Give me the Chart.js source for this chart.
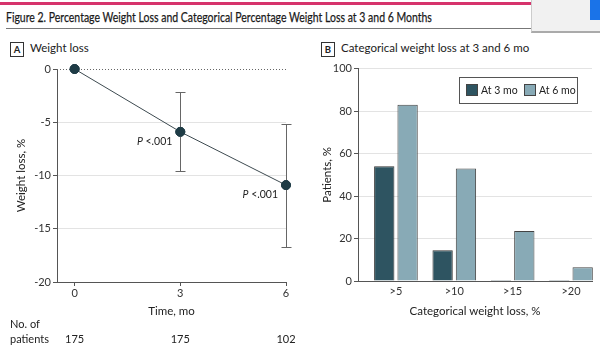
<!DOCTYPE html>
<html>
<head>
<meta charset="utf-8">
<script src="https://cdn.jsdelivr.net/npm/chart.js@4.4.1/dist/chart.umd.min.js"></script>
<style>
  body { margin: 0; background: #fff; }
  #page { position: relative; width: 600px; height: 348px; overflow: hidden; background: #fff;
          font-family: "Lato", "Liberation Sans", sans-serif; color: #222; }
  .abs { position: absolute; }
  #topline { left: 0; top: 2px; width: 531px; height: 3px; background: #d6336c; }
  #title { left: 6px; top: 8px; font-size: 14px; white-space: nowrap; color: #1a1a1a; transform-origin: 0 0;
           -webkit-text-stroke: 0.25px #1a1a1a; }
  #rule { left: 6px; top: 28px; width: 525px; height: 1px; background: #777; }
  #popup { left: 531px; top: 0; width: 69px; height: 33px; background: #f1f1f1;
           border-left: 1px solid #ccc; border-bottom: 2px solid #aaa; box-sizing: border-box; }
  #blue { left: 590px; top: 0; width: 10px; height: 20px; background: #1a73e8; }
  .panel { font-size: 11.5px; color: #222; white-space: nowrap; }
  .tag { display: inline-block; border: 1px solid #333; font-size: 9.5px; font-weight: bold;
         width: 12px; height: 13px; line-height: 13px; text-align: center; margin-right: 6px; vertical-align: middle; }
  canvas { position: absolute; }
</style>
</head>
<body>
<div id="page">
  <div id="topline" class="abs"></div>
  <div id="title" class="abs">Figure 2. Percentage Weight Loss and Categorical Percentage Weight Loss at 3 and 6 Months</div>
  <div id="rule" class="abs"></div>
  <div id="popup" class="abs"></div>
  <div id="blue" class="abs"></div>
  <div class="abs panel" style="left:10px; top:41px;"><span class="tag">A</span>Weight loss</div>
  <div class="abs panel" style="left:321px; top:41px;"><span class="tag">B</span>Categorical weight loss at 3 and 6 mo</div>
  <div class="abs" style="left:0; top:60px; width:300px; height:288px;"><canvas id="lossChart"></canvas></div>
  <div class="abs" style="left:300px; top:60px; width:300px; height:288px;"><canvas id="catChart"></canvas></div>
</div>
<script>
// panel A: mean weight loss over time
const months = [0, 3, 6];
const meanLoss = [0, -5.9, -10.9];
const ciUpper = [null, -2.2, -5.2];
const ciLower = [null, -9.6, -16.7];
const pLabels = ['', 'P <.001', 'P <.001'];
const patients = [175, 175, 102];
const lossTicks = [-20, -15, -10, -5, 0];

// panel B: categorical weight loss
const categories = ['>5', '>10', '>15', '>20'];
const at3mo = [54, 14.5, 0.5, 0.5];
const at6mo = [83, 53, 23.5, 6.5];

const FONT = '"Lato", "Liberation Sans", sans-serif';
const AXIS = '#555';
const GRID = '#e3e3e3';
const DARK = '#2e5461';
const LIGHT = '#88aab6';

Chart.defaults.font.family = FONT;
Chart.defaults.color = '#333';

// squeeze the title into the width it takes in the figure
const titleEl = document.getElementById('title');
titleEl.style.transform = 'scaleX(' + (426 / titleEl.scrollWidth) + ')';

const lossExtras = {
  id: 'lossExtras',
  beforeDatasetsDraw(chart) {
    const { ctx, chartArea, scales: { y } } = chart;
    const y0 = Math.round(y.getPixelForValue(0)) + 0.5;
    ctx.save();
    ctx.strokeStyle = '#666';
    ctx.lineWidth = 1;
    ctx.setLineDash([1, 2]);
    ctx.beginPath();
    ctx.moveTo(chartArea.left, y0);
    ctx.lineTo(chartArea.right, y0);
    ctx.stroke();
    ctx.restore();
  },
  afterDatasetsDraw(chart) {
    const { ctx, scales: { x, y } } = chart;
    ctx.save();
    ctx.strokeStyle = '#666';
    ctx.lineWidth = 1;
    months.forEach((m, i) => {
      if (ciUpper[i] === null) return;
      const px = Math.round(x.getPixelForValue(m)) + 0.5;
      const top = Math.round(y.getPixelForValue(ciUpper[i])) + 0.5;
      const bot = Math.round(y.getPixelForValue(ciLower[i])) + 0.5;
      ctx.beginPath();
      ctx.moveTo(px, top); ctx.lineTo(px, bot);
      ctx.moveTo(px - 5, top); ctx.lineTo(px + 5, top);
      ctx.moveTo(px - 5, bot); ctx.lineTo(px + 5, bot);
      ctx.stroke();
    });
    // points sit on top of the error bars
    chart.getDatasetMeta(0).data.forEach(pt => pt.draw(ctx));
    // P value labels
    ctx.fillStyle = '#222';
    ctx.textAlign = 'right';
    ctx.textBaseline = 'middle';
    months.forEach((m, i) => {
      if (!pLabels[i]) return;
      const px = x.getPixelForValue(m) - 8;
      const py = y.getPixelForValue(meanLoss[i]) + 10;
      const rest = pLabels[i].slice(1);
      ctx.font = '10.5px ' + FONT;
      const w = ctx.measureText(rest).width;
      ctx.fillText(rest, px, py);
      ctx.font = 'italic 10.5px ' + FONT;
      ctx.fillText('P', px - w, py);
    });
    // number of patients row
    ctx.font = '11px ' + FONT;
    ctx.textAlign = 'left';
    ctx.fillText('No. of', 10, 264);
    ctx.fillText('patients', 10, 279);
    ctx.textAlign = 'center';
    months.forEach((m, i) => {
      ctx.fillText(String(patients[i]), x.getPixelForValue(m), 279);
    });
    ctx.restore();
  }
};

new Chart(document.getElementById('lossChart'), {
  type: 'line',
  data: {
    datasets: [{
      data: months.map((m, i) => ({ x: m, y: meanLoss[i] })),
      borderColor: '#3d4a50',
      borderWidth: 1,
      pointRadius: 4.5,
      pointBackgroundColor: '#1f3c46',
      pointBorderColor: '#1f3c46',
      fill: false,
      clip: false
    }]
  },
  options: {
    responsive: true,
    maintainAspectRatio: false,
    animation: false,
    layout: { padding: { left: 10, right: 14, top: 9, bottom: 26 } },
    plugins: { legend: { display: false }, tooltip: { enabled: false } },
    scales: {
      x: {
        type: 'linear', min: -0.5, max: 6,
        afterBuildTicks: s => { s.ticks = months.map(v => ({ value: v })); },
        afterFit: s => { s.height = 40; },
        grid: { drawOnChartArea: false, drawTicks: true, tickLength: 4, tickColor: AXIS },
        border: { color: AXIS },
        ticks: { padding: 1, font: { size: 11 }, color: '#333' },
        title: { display: true, text: 'Time, mo', font: { size: 11.5 }, color: '#222', padding: { top: 4, bottom: 4 } }
      },
      y: {
        min: -20, max: 0,
        afterBuildTicks: s => { s.ticks = lossTicks.map(v => ({ value: v })); },
        afterFit: s => { s.width = 47; },
        grid: {
          color: c => (c.tick && (c.tick.value === 0 || c.tick.value === -20)) ? 'rgba(0,0,0,0)' : GRID,
          tickColor: AXIS, tickLength: 4
        },
        border: { color: AXIS },
        ticks: { padding: 2, font: { size: 11 }, color: '#333' },
        title: { display: true, text: 'Weight loss, %', font: { size: 11.5 }, color: '#222', padding: { top: 4, bottom: 4 } }
      }
    }
  },
  plugins: [lossExtras]
});

const catLegend = {
  id: 'catLegend',
  afterDraw(chart) {
    const { ctx } = chart;
    const bx = 159, by = 17, bw = 118, bh = 26;
    ctx.save();
    ctx.fillStyle = '#fff';
    ctx.fillRect(bx, by, bw, bh);
    ctx.strokeStyle = '#555';
    ctx.lineWidth = 1;
    ctx.strokeRect(bx + 0.5, by + 0.5, bw, bh);
    ctx.font = '10.5px ' + FONT;
    ctx.textBaseline = 'middle';
    ctx.textAlign = 'left';
    const items = [[166, chart.data.datasets[0]], [224, chart.data.datasets[1]]];
    items.forEach(([sx, ds]) => {
      ctx.fillStyle = ds.backgroundColor;
      ctx.fillRect(sx, by + 7, 12, 12);
      ctx.strokeStyle = '#444';
      ctx.strokeRect(sx + 0.5, by + 7.5, 11, 11);
      ctx.fillStyle = '#222';
      ctx.fillText(ds.label, sx + 15, by + 13.5);
    });
    ctx.restore();
  }
};

new Chart(document.getElementById('catChart'), {
  type: 'bar',
  data: {
    datasets: [
      { label: 'At 3 mo', data: at3mo.map((v, i) => ({ x: i, y: v })), backgroundColor: DARK, borderColor: '#333', borderWidth: 1 },
      { label: 'At 6 mo', data: at6mo.map((v, i) => ({ x: i, y: v })), backgroundColor: LIGHT, borderColor: '#444', borderWidth: 1 }
    ]
  },
  options: {
    responsive: true,
    maintainAspectRatio: false,
    animation: false,
    layout: { padding: { left: 16, right: 8, top: 8, bottom: 26 } },
    datasets: { bar: { categoryPercentage: 0.8, barPercentage: 0.87, clip: false } },
    plugins: { legend: { display: false }, tooltip: { enabled: false } },
    scales: {
      x: {
        type: 'linear', min: -0.65, max: 3.36, offset: false,
        afterBuildTicks: s => { s.ticks = categories.map((c, i) => ({ value: i })); },
        afterFit: s => { s.height = 41; },
        grid: { drawOnChartArea: false, drawTicks: false },
        border: { color: AXIS },
        ticks: { padding: 4, font: { size: 11 }, color: '#333', callback: v => categories[v] },
        title: { display: true, text: 'Categorical weight loss, %', font: { size: 11.5 }, color: '#222', padding: { top: 4, bottom: 4 } }
      },
      y: {
        min: 0, max: 100,
        ticks: { stepSize: 20, padding: 2, font: { size: 11 }, color: '#333' },
        afterFit: s => { s.width = 42; },
        grid: {
          color: c => (c.tick && c.tick.value === 0) ? 'rgba(0,0,0,0)' : GRID,
          tickColor: AXIS, tickLength: 4
        },
        border: { color: AXIS },
        title: { display: true, text: 'Patients, %', font: { size: 11.5 }, color: '#222', padding: { top: 4, bottom: 4 } }
      }
    }
  },
  plugins: [catLegend]
});
</script>
</body>
</html>
